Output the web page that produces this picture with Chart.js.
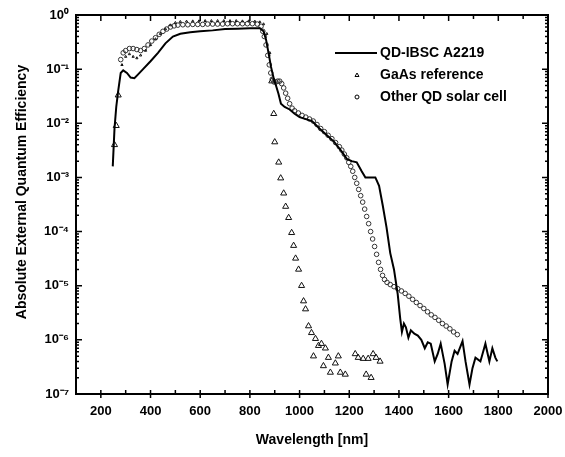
<!DOCTYPE html>
<html>
<head>
<meta charset="utf-8">
<script src="https://cdn.jsdelivr.net/npm/chart.js@4.4.0/dist/chart.umd.min.js"></script>
<style>
  body { margin: 0; background: #fff; }
  #wrap { width: 565px; height: 457px; }
</style>
</head>
<body>
<div id="wrap"><canvas id="eqeChart" width="565" height="457"></canvas></div>
<script>
// QD-IBSC A2219 (solid line)
const qdWl = [248,255,262,270,280,290,305,320,335,350,370,400,430,460,490,520,560,600,650,700,
  750,800,840,855,865,875,885,895,905,915,925,940,960,980,1000,1050,1080,1110,1140,1170,
  1190,1210,1230,1250,1265,1290,1305,1320,1335,1350,1365,1380,1395,1405,1412,1420,1428,1438,1448,1462,
  1476,1490,1504,1516,1528,1544,1556,1568,1584,1596,1612,1624,1636,1656,1668,1684,1696,1708,1728,1748,
  1764,1776,1788,1796];
const qdEqe = [1.6e-3,8e-3,0.02,0.04,0.085,0.095,0.085,0.07,0.068,0.08,0.1,0.14,0.2,0.3,0.4,0.45,0.48,0.5,0.52,0.55,
  0.56,0.57,0.57,0.5,0.35,0.2,0.11,0.07,0.05,0.035,0.023,0.02,0.018,0.015,0.013,0.011,0.008,0.006,0.0045,0.003,
  0.0022,0.002,0.0019,0.0013,0.001,0.001,0.001,0.0007,0.0003,1.2e-4,4e-5,2e-5,7e-6,2.5e-6,1.4e-6,2e-6,1.7e-6,1.1e-6,1.5e-6,1.3e-6,
  1.2e-6,1e-6,7e-7,9e-7,8.5e-7,4e-7,5.5e-7,8.5e-7,3.6e-7,1.5e-7,4e-7,6.3e-7,5.5e-7,9.5e-7,4e-7,1.5e-7,3e-7,4.7e-7,4e-7,8.5e-7,
  4e-7,7e-7,4.7e-7,4e-7];

// GaAs reference (triangles)
const gaasWl = [255,262,270,285,300,315,330,345,360,380,400,420,440,460,480,500,520,545,570,595,
  620,645,670,695,720,745,770,795,820,840,855,868,880,888,896,900,916,924,936,944,
  956,968,976,984,996,1008,1016,1024,1036,1048,1056,1064,1076,1088,1096,1104,1116,1124,1144,1156,
  1164,1184,1224,1236,1256,1268,1276,1288,1296,1308,1324];
const gaasEqe = [0.004,0.009,0.033,0.12,0.17,0.19,0.17,0.16,0.18,0.22,0.28,0.36,0.45,0.55,0.65,0.72,0.75,0.76,0.77,0.77,
  0.78,0.78,0.78,0.78,0.78,0.78,0.77,0.77,0.76,0.74,0.68,0.45,0.2,0.06,0.015,0.0045,0.0019,9.7e-4,5.1e-4,2.9e-4,
  1.8e-4,9.5e-5,5.5e-5,3.2e-5,2e-5,1e-5,5.2e-6,3.7e-6,1.8e-6,1.35e-6,5e-7,1.05e-6,7.8e-7,8.5e-7,3.3e-7,7e-7,4.7e-7,2.5e-7,3.7e-7,5e-7,
  2.5e-7,2.3e-7,5.5e-7,4.7e-7,4.5e-7,2.3e-7,4.5e-7,2e-7,5.5e-7,4.7e-7,4e-7];

// Other QD solar cell (circles)
const otherWl = [280,290,300,315,330,345,360,375,390,405,420,435,450,465,480,495,510,530,550,570,
  590,610,630,650,670,690,710,730,750,770,790,810,830,845,852,858,865,872,878,884,
  890,897,905,912,920,928,936,944,952,960,970,980,995,1010,1025,1040,1055,1070,1085,1100,
  1115,1130,1145,1160,1170,1180,1190,1198,1206,1214,1222,1230,1238,1246,1254,1262,1270,1278,1286,1294,
  1302,1310,1318,1326,1334,1342,1352,1365,1380,1395,1410,1425,1440,1455,1470,1485,1500,1515,1530,1545,
  1560,1575,1590,1605,1620,1635];
const otherEqe = [0.15,0.2,0.22,0.24,0.24,0.23,0.22,0.24,0.28,0.33,0.38,0.44,0.5,0.55,0.6,0.63,0.65,0.66,0.66,0.67,
  0.67,0.67,0.68,0.68,0.68,0.68,0.69,0.69,0.69,0.69,0.69,0.69,0.68,0.62,0.5,0.4,0.28,0.18,0.12,0.085,
  0.065,0.058,0.058,0.06,0.06,0.054,0.045,0.036,0.029,0.023,0.019,0.017,0.0155,0.014,0.013,0.012,0.011,0.0095,0.008,0.007,
  0.006,0.0052,0.0044,0.0037,0.0032,0.0027,0.0023,0.0019,0.0016,0.0013,0.001,7.8e-4,6e-4,4.6e-4,3.5e-4,2.6e-4,1.9e-4,1.4e-4,1e-4,7.3e-5,
  5.3e-5,3.8e-5,2.7e-5,2e-5,1.55e-5,1.3e-5,1.15e-5,1.05e-5,9.6e-6,8.8e-6,8e-6,7.2e-6,6.4e-6,5.6e-6,4.9e-6,4.3e-6,3.8e-6,3.3e-6,2.9e-6,2.6e-6,
  2.3e-6,2e-6,1.8e-6,1.6e-6,1.4e-6,1.25e-6];

const xTicks = [200,400,600,800,1000,1200,1400,1600,1800,2000];
const yTickExps = [-7,-6,-5,-4,-3,-2,-1,0];
const seriesNames = ['QD-IBSC A2219', 'GaAs reference', 'Other QD solar cell'];

const SUP = {'-':'\u207B','0':'\u2070','1':'\u00B9','2':'\u00B2','3':'\u00B3','4':'\u2074','5':'\u2075','6':'\u2076','7':'\u2077'};
const sup = n => String(n).split('').map(c => SUP[c]).join('');

const toPts = (xs, ys) => xs.map((v, i) => ({ x: v, y: ys[i] }));
const FONT = "'Liberation Sans', Arial, sans-serif";

// frame, ticks, y title and legend drawn on top
const frameTicks = {
  id: 'frameTicks',
  afterDraw(chart) {
    const { ctx, chartArea: a, scales: { x, y } } = chart;
    ctx.save();
    ctx.strokeStyle = '#000';
    ctx.lineWidth = 2;
    ctx.strokeRect(a.left, a.top, a.right - a.left, a.bottom - a.top);

    ctx.lineWidth = 1.5;
    ctx.beginPath();
    for (let v = 100; v <= 2000; v += 100) {
      const px = x.getPixelForValue(v);
      const major = v % 200 === 0;
      ctx.moveTo(px, a.bottom + (major ? 4 : 0)); ctx.lineTo(px, a.bottom - 4);
      ctx.moveTo(px, a.top); ctx.lineTo(px, a.top + (major ? 6 : 4));
    }
    for (let e = -7; e < 0; e++) {
      for (let m = 1; m <= 9; m++) {
        const py = y.getPixelForValue(m * Math.pow(10, e));
        const len = m === 1 ? 6 : 3;
        ctx.moveTo(a.left, py); ctx.lineTo(a.left + len, py);
        ctx.moveTo(a.right, py); ctx.lineTo(a.right - len, py);
      }
    }
    ctx.stroke();

    // y axis title
    ctx.fillStyle = '#000';
    ctx.font = `bold 14px ${FONT}`;
    ctx.textAlign = 'center';
    ctx.textBaseline = 'middle';
    ctx.save();
    ctx.translate(22, 192);
    ctx.rotate(-Math.PI / 2);
    ctx.fillText('Absolute External Quantum Efficiency', 0, 0);
    ctx.restore();

    // legend
    const lx = 335, ly = 53, gap = 22;
    ctx.textAlign = 'left';
    ctx.lineWidth = 2;
    ctx.beginPath();
    ctx.moveTo(lx, ly); ctx.lineTo(lx + 42, ly);
    ctx.stroke();
    ctx.lineWidth = 1;
    ctx.beginPath();
    ctx.moveTo(357, ly + gap - 2); ctx.lineTo(359, ly + gap + 1.5); ctx.lineTo(355, ly + gap + 1.5); ctx.closePath();
    ctx.stroke();
    ctx.beginPath();
    ctx.arc(357, ly + 2 * gap, 2, 0, Math.PI * 2);
    ctx.stroke();
    seriesNames.forEach((t, i) => ctx.fillText(t, lx + 45, ly + i * gap));
    ctx.restore();
  }
};

new Chart(document.getElementById('eqeChart'), {
  type: 'scatter',
  data: {
    datasets: [
      {
        label: seriesNames[0],
        data: toPts(qdWl, qdEqe),
        showLine: true,
        borderColor: '#000',
        borderWidth: 2,
        pointRadius: 0,
        tension: 0
      },
      {
        label: seriesNames[1],
        data: toPts(gaasWl, gaasEqe),
        showLine: false,
        pointStyle: 'triangle',
        pointRadius: ctx => (ctx.raw && ctx.raw.y > 0.1 ? 1.3 : 3.5),
        borderColor: '#111',
        borderWidth: 1,
        backgroundColor: 'rgba(255,255,255,0)'
      },
      {
        label: seriesNames[2],
        data: toPts(otherWl, otherEqe),
        showLine: false,
        pointStyle: 'circle',
        pointRadius: 2.3,
        borderColor: '#333',
        borderWidth: 1,
        backgroundColor: 'rgba(255,255,255,0)'
      }
    ]
  },
  options: {
    responsive: false,
    animation: false,
    layout: { padding: { top: 15, right: 17, left: 0, bottom: 0 } },
    plugins: { legend: { display: false }, tooltip: { enabled: false } },
    scales: {
      x: {
        type: 'linear',
        min: 100,
        max: 2000,
        afterBuildTicks: s => { s.ticks = xTicks.map(v => ({ value: v })); },
        afterFit: s => { s.height = 63; s.paddingLeft = 0; s.paddingRight = 0; },
        grid: { display: false, drawTicks: false },
        border: { display: false },
        ticks: {
          color: '#000',
          font: { family: FONT, size: 13, weight: 'bold' },
          padding: 10,
          maxRotation: 0,
          callback: v => String(v)
        },
        title: {
          display: true,
          text: 'Wavelength [nm]',
          color: '#000',
          font: { family: FONT, size: 14, weight: 'bold' },
          padding: { top: 0, bottom: 8 }
        }
      },
      y: {
        type: 'logarithmic',
        min: 1e-7,
        max: 1,
        afterBuildTicks: s => { s.ticks = yTickExps.map(e => ({ value: Math.pow(10, e) })); },
        afterFit: s => { s.width = 76; s.paddingTop = 0; s.paddingBottom = 0; },
        grid: { display: false, drawTicks: false },
        border: { display: false },
        ticks: {
          color: '#000',
          font: { family: FONT, size: 13, weight: 'bold' },
          padding: 7,
          callback: v => '10' + sup(Math.round(Math.log10(v)))
        }
      }
    }
  },
  plugins: [frameTicks]
});
</script>
</body>
</html>
